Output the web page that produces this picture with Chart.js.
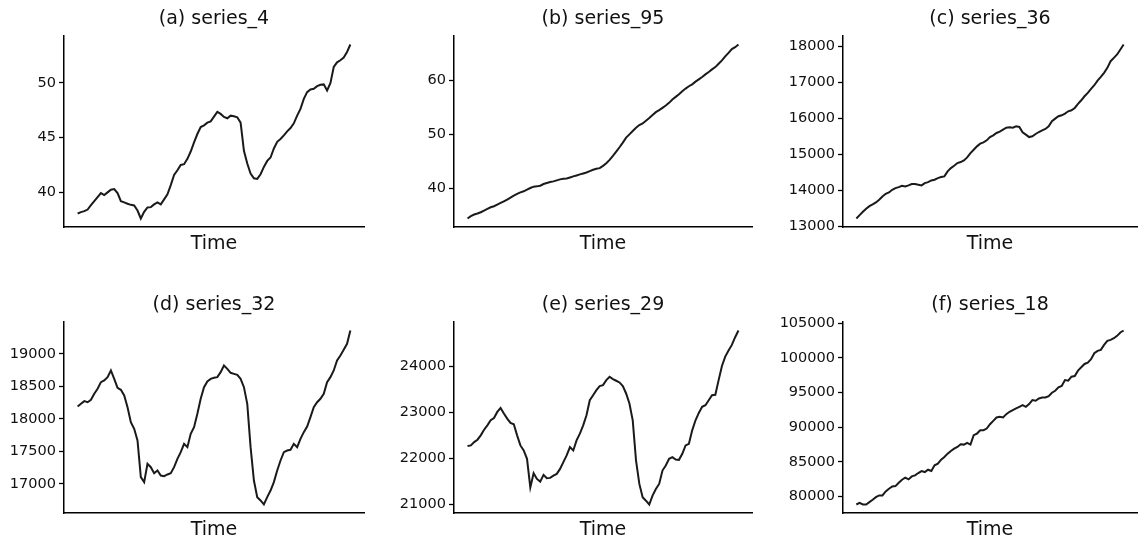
<!DOCTYPE html>
<html>
<head>
<meta charset="utf-8">
<script src="https://cdn.jsdelivr.net/npm/chart.js@4.4.0/dist/chart.umd.min.js"></script>
<style>
  html, body { margin: 0; padding: 0; background: #fff; overflow: hidden; }
  body { width: 1138px; height: 538px; position: relative; }
  canvas { position: absolute; }
</style>
</head>
<body>
<canvas id="c0"></canvas>
<canvas id="c1"></canvas>
<canvas id="c2"></canvas>
<canvas id="c3"></canvas>
<canvas id="c4"></canvas>
<canvas id="c5"></canvas>
<script>
// values, evenly spaced in time
const series4 = [38.04, 38.16, 38.25, 38.40, 38.80, 39.17, 39.54, 39.91, 39.72, 39.97, 40.21, 40.28, 39.91, 39.17, 39.05, 38.93, 38.83, 38.77, 38.31, 37.58, 38.19, 38.59, 38.62, 38.87, 39.05, 38.87, 39.33, 39.79, 40.64, 41.56, 41.99, 42.48, 42.55, 43.04, 43.71, 44.54, 45.31, 45.95, 46.10, 46.35, 46.47, 46.90, 47.33, 47.15, 46.87, 46.75, 46.99, 46.93, 46.84, 46.35, 43.77, 42.61, 41.69, 41.26, 41.20, 41.63, 42.30, 42.85, 43.16, 43.99, 44.60, 44.85, 45.18, 45.55, 45.86, 46.29, 46.99, 47.61, 48.53, 49.14, 49.39, 49.45, 49.69, 49.82, 49.85, 49.29, 49.97, 51.44, 51.87, 52.06, 52.30, 52.82, 53.50];

const series95 = [34.42, 34.85, 35.15, 35.34, 35.58, 35.89, 36.20, 36.50, 36.69, 37.00, 37.30, 37.61, 37.91, 38.28, 38.65, 38.96, 39.26, 39.45, 39.75, 40.06, 40.31, 40.37, 40.49, 40.80, 40.98, 41.17, 41.29, 41.47, 41.66, 41.78, 41.84, 42.02, 42.21, 42.39, 42.58, 42.76, 42.94, 43.19, 43.44, 43.62, 43.74, 44.17, 44.66, 45.28, 46.01, 46.81, 47.61, 48.47, 49.39, 50.00, 50.61, 51.23, 51.72, 52.02, 52.52, 53.01, 53.56, 54.11, 54.48, 54.91, 55.34, 55.83, 56.44, 56.93, 57.42, 57.98, 58.47, 58.90, 59.26, 59.75, 60.18, 60.61, 61.10, 61.53, 62.02, 62.45, 63.07, 63.68, 64.42, 65.09, 65.77, 66.13, 66.63];

const series36 = [13222, 13315, 13407, 13491, 13565, 13611, 13667, 13741, 13833, 13907, 13944, 14019, 14065, 14093, 14130, 14111, 14139, 14176, 14176, 14157, 14139, 14204, 14231, 14278, 14296, 14343, 14370, 14389, 14528, 14620, 14685, 14759, 14787, 14833, 14917, 15037, 15130, 15222, 15296, 15333, 15389, 15481, 15528, 15593, 15630, 15685, 15741, 15750, 15741, 15778, 15759, 15611, 15546, 15480, 15500, 15565, 15620, 15667, 15704, 15778, 15917, 15991, 16056, 16083, 16130, 16194, 16222, 16287, 16398, 16500, 16611, 16704, 16815, 16917, 17046, 17148, 17259, 17398, 17583, 17676, 17769, 17907, 18046];

const series32 = [18190, 18231, 18272, 18256, 18292, 18385, 18462, 18564, 18590, 18641, 18744, 18615, 18477, 18446, 18359, 18179, 17949, 17846, 17667, 17103, 17026, 17308, 17256, 17164, 17205, 17128, 17118, 17144, 17164, 17256, 17385, 17487, 17615, 17564, 17769, 17872, 18077, 18308, 18487, 18574, 18615, 18631, 18641, 18718, 18821, 18769, 18708, 18692, 18677, 18615, 18487, 18231, 17564, 17051, 16795, 16744, 16682, 16795, 16897, 17026, 17205, 17359, 17487, 17513, 17523, 17615, 17564, 17692, 17795, 17882, 18026, 18179, 18256, 18308, 18385, 18564, 18641, 18744, 18897, 18974, 19062, 19154, 19359];

const series29 = [22260, 22274, 22347, 22398, 22493, 22616, 22711, 22820, 22871, 23002, 23090, 22966, 22857, 22762, 22733, 22493, 22274, 22165, 21983, 21360, 21670, 21546, 21488, 21633, 21560, 21568, 21619, 21655, 21764, 21910, 22056, 22238, 22165, 22383, 22529, 22711, 22930, 23257, 23366, 23476, 23563, 23585, 23694, 23767, 23716, 23680, 23643, 23563, 23403, 23184, 22820, 21946, 21437, 21146, 21073, 20990, 21182, 21328, 21437, 21728, 21837, 21983, 22019, 21968, 21961, 22092, 22274, 22310, 22602, 22820, 22980, 23112, 23148, 23257, 23366, 23374, 23694, 24000, 24204, 24335, 24459, 24626, 24772];

const series18 = [78843, 79085, 78843, 78843, 79181, 79519, 79905, 80146, 80146, 80725, 81111, 81449, 81497, 81980, 82414, 82704, 82463, 82897, 83041, 83379, 83669, 83524, 83862, 83669, 84490, 84731, 85310, 85696, 86179, 86565, 86903, 87144, 87530, 87482, 87723, 87482, 88833, 89074, 89557, 89557, 89798, 90426, 90908, 91391, 91487, 91391, 91873, 92211, 92452, 92694, 92935, 93176, 92935, 93321, 93900, 93803, 94141, 94286, 94286, 94479, 94962, 95251, 95734, 95927, 96796, 96699, 97278, 97375, 98147, 98630, 99112, 99305, 99788, 100657, 100994, 101139, 101863, 102442, 102587, 102829, 103166, 103649, 103938];

const titles = ["(a) series_4", "(b) series_95", "(c) series_36", "(d) series_32", "(e) series_29", "(f) series_18"];
const allSeries = [series4, series95, series36, series32, series29, series18];
const tickSteps = [5, 10, 1000, 500, 1000, 5000];

// where each panel sits on the page
const boxes = [
  { left: 0,   top: 0,   width: 380, axisX: 64, plotRight: 364 },
  { left: 380, top: 0,   width: 380, axisX: 74, plotRight: 372 },
  { left: 760, top: 0,   width: 378, axisX: 83, plotRight: 377 },
  { left: 0,   top: 286, width: 380, axisX: 64, plotRight: 364 },
  { left: 380, top: 286, width: 380, axisX: 74, plotRight: 372 },
  { left: 760, top: 286, width: 378, axisX: 83, plotRight: 377 },
];

Chart.defaults.font.family = "'DejaVu Sans', sans-serif";
Chart.defaults.color = "#111";

allSeries.forEach((values, k) => {
  const box = boxes[k];
  const canvas = document.getElementById("c" + k);
  canvas.width = box.width;
  canvas.height = 260;
  canvas.style.width = box.width + "px";
  canvas.style.height = "260px";
  canvas.style.left = box.left + "px";
  canvas.style.top = box.top + "px";

  // matplotlib-like 5% margins
  const lo = Math.min(...values), hi = Math.max(...values);
  const yPad = (hi - lo) * 0.05;
  const last = values.length - 1;
  const step = tickSteps[k];

  new Chart(canvas, {
    type: "line",
    data: {
      datasets: [{
        data: values.map((v, i) => ({ x: i, y: v })),
        borderColor: "#1a1a1a",
        borderWidth: 2,
        pointRadius: 0,
        tension: 0,
        fill: false,
      }],
    },
    options: {
      responsive: false,
      animation: false,
      devicePixelRatio: 1,
      layout: { padding: { left: 0, right: box.width - box.plotRight, top: 0, bottom: 0 } },
      plugins: { legend: { display: false }, tooltip: { enabled: false } },
      scales: {
        x: {
          type: "linear",
          min: -0.05 * last,
          max: last * 1.05,
          ticks: { display: false },
          grid: { display: false, drawTicks: false },
          border: { display: true, color: "#000", width: 1.5 },
          title: { display: true, text: "Time", font: { size: 19 }, padding: { top: 5, bottom: 5 } },
        },
        top: {
          type: "linear",
          position: "top",
          min: 0,
          max: 1,
          ticks: { display: false },
          grid: { display: false, drawTicks: false },
          border: { display: false },
          title: { display: true, text: titles[k], font: { size: 19 }, padding: { top: 8, bottom: 5 } },
        },
        y: {
          min: lo - yPad,
          max: hi + yPad,
          afterFit: (scale) => { scale.width = box.axisX; },
          afterBuildTicks: (scale) => {
            const ticks = [];
            for (let v = Math.ceil(scale.min / step) * step; v <= scale.max; v += step) ticks.push({ value: v });
            scale.ticks = ticks;
          },
          ticks: { font: { size: 14.5 }, padding: 3, callback: (v) => String(v) },
          grid: { drawOnChartArea: false, drawTicks: true, tickLength: 5, tickColor: "#000", tickWidth: 1.3 },
          border: { display: true, color: "#000", width: 1.5 },
        },
      },
    },
  });
});
</script>
</body>
</html>
